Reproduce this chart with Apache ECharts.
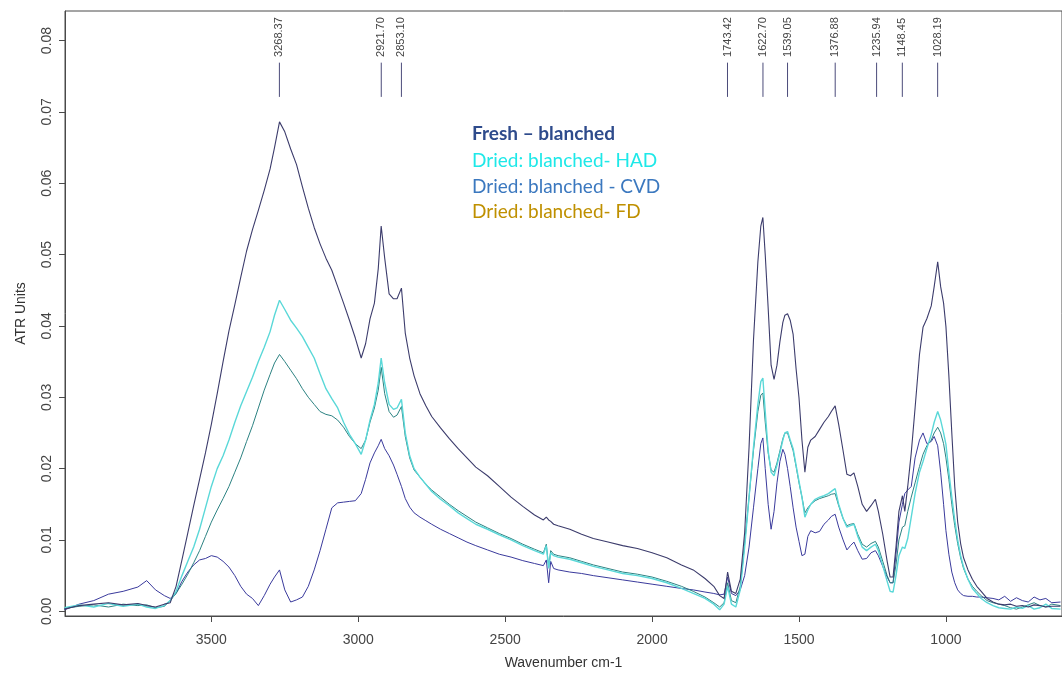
<!DOCTYPE html>
<html>
<head>
<meta charset="utf-8">
<script src="https://cdn.jsdelivr.net/npm/echarts@6/dist/echarts.min.js"></script>
<style>
html,body{margin:0;padding:0;background:#fff;}
#chart{width:1062px;height:675px;}
</style>
</head>
<body>
<div id="chart"></div>
<script>
const wavenumbers = [4000,3950,3900,3850,3800,3750,3720,3690,3660,3640,3620,3600,3580,3560,3540,3520,3500,3480,3460,3440,3420,3400,3380,3360,3340,3320,3300,3285,3268,3250,3230,3210,3190,3170,3150,3130,3110,3090,3070,3050,3030,3010,2990,2975,2960,2945,2932,2922,2910,2895,2880,2868,2853,2840,2825,2810,2790,2770,2750,2720,2690,2660,2630,2600,2560,2520,2480,2440,2400,2370,2360,2352,2345,2335,2320,2280,2240,2200,2150,2100,2050,2000,1950,1900,1860,1820,1790,1770,1755,1743,1730,1715,1700,1685,1670,1655,1640,1630,1623,1615,1605,1595,1585,1575,1565,1555,1548,1539,1530,1520,1510,1500,1490,1480,1470,1460,1445,1430,1415,1400,1390,1377,1365,1350,1337,1325,1313,1300,1285,1270,1255,1240,1230,1215,1200,1190,1180,1170,1160,1148,1140,1130,1118,1105,1090,1078,1065,1050,1040,1028,1018,1008,1000,990,980,970,960,950,940,925,910,895,880,860,840,820,800,780,760,740,720,700,680,660,640,610];

const freshBlanched = [.0003,.0008,.0010,.0012,.0009,.0011,.0008,.0006,.0010,.0012,.0035,.0072,.0110,.0148,.0185,.0222,.0262,.0305,.0350,.0393,.0430,.0468,.0505,.0535,.0562,.0590,.0620,.0650,.0686,.0672,.0648,.0626,.0595,.0565,.0538,.0515,.0495,.0478,.0455,.0432,.0408,.0383,.0355,.0375,.0410,.0432,.0480,.0540,.0495,.0445,.0438,.0438,.0453,.0390,.0355,.0330,.0305,.0288,.0273,.0257,.0242,.0228,.0215,.0202,.0190,.0175,.0160,.0147,.0135,.0128,.0132,.0128,.0126,.0122,.0120,.0115,.0108,.0102,.0097,.0092,.0088,.0082,.0075,.0065,.0058,.0046,.0035,.0022,.0018,.0055,.0028,.0025,.0045,.0110,.0230,.0380,.0490,.0540,.0552,.0500,.0425,.0345,.0325,.0345,.0378,.0405,.0415,.0417,.0408,.0388,.0340,.0299,.0240,.0195,.0230,.0240,.0245,.0255,.0265,.0273,.0280,.0288,.0262,.0225,.0192,.0190,.0194,.0175,.0150,.0140,.0148,.0157,.0140,.0108,.0070,.0048,.0048,.0090,.0140,.0162,.0140,.0175,.0222,.0285,.0360,.0398,.0410,.0428,.0455,.0490,.0455,.0432,.0399,.0330,.0250,.0175,.0125,.0095,.0075,.0058,.0045,.0035,.0028,.0018,.0013,.0010,.0009,.0010,.0007,.0008,.0006,.0009,.0008,.0006,.0007,.0007];

const driedHAD = [.0005,.0009,.0006,.0011,.0007,.0010,.0006,.0004,.0008,.0015,.0028,.0050,.0070,.0090,.0115,.0145,.0175,.0200,.0218,.0240,.0265,.0288,.0308,.0328,.0350,.0370,.0392,.0415,.0436,.0423,.0408,.0397,.0385,.0370,.0355,.0333,.0312,.0298,.0285,.0265,.0248,.0235,.0220,.0240,.0268,.0290,.0320,.0355,.0320,.0290,.0283,.0285,.0297,.0250,.0218,.0200,.0188,.0178,.0168,.0157,.0148,.0138,.0130,.0122,.0115,.0107,.0100,.0092,.0085,.0080,.0092,.0060,.0082,.0078,.0076,.0073,.0068,.0063,.0058,.0053,.0050,.0046,.0040,.0032,.0025,.0018,.0010,.0002,.0010,.0035,.0010,.0006,.0030,.0090,.0160,.0230,.0290,.0322,.0327,.0280,.0225,.0195,.0190,.0205,.0222,.0240,.0250,.0252,.0240,.0228,.0205,.0182,.0160,.0132,.0142,.0150,.0157,.0160,.0162,.0165,.0168,.0172,.0150,.0130,.0118,.0120,.0122,.0105,.0090,.0085,.0090,.0094,.0085,.0064,.0042,.0028,.0027,.0050,.0078,.0090,.0088,.0102,.0132,.0165,.0195,.0210,.0228,.0248,.0265,.0280,.0268,.0250,.0234,.0195,.0160,.0128,.0100,.0078,.0062,.0045,.0032,.0025,.0018,.0012,.0008,.0005,.0004,.0003,.0006,.0004,.0008,.0003,.0005,.0010,.0004,.0003];

const driedCVD = [.0004,.0007,.0009,.0006,.0010,.0008,.0009,.0005,.0007,.0015,.0025,.0038,.0052,.0068,.0085,.0105,.0125,.0142,.0158,.0175,.0195,.0215,.0238,.0260,.0285,.0310,.0332,.0348,.0360,.0350,.0338,.0326,.0312,.0300,.0290,.0280,.0276,.0274,.0268,.0258,.0245,.0235,.0228,.0240,.0265,.0285,.0310,.0342,.0305,.0280,.0272,.0275,.0287,.0245,.0215,.0198,.0188,.0178,.0170,.0160,.0150,.0141,.0133,.0125,.0117,.0109,.0102,.0094,.0087,.0082,.0094,.0062,.0085,.0080,.0078,.0075,.0070,.0065,.0060,.0055,.0052,.0048,.0042,.0035,.0028,.0020,.0012,.0006,.0012,.0040,.0015,.0012,.0035,.0095,.0160,.0225,.0280,.0303,.0306,.0265,.0222,.0198,.0195,.0208,.0225,.0242,.0250,.0250,.0238,.0225,.0203,.0180,.0160,.0138,.0145,.0150,.0155,.0158,.0160,.0162,.0164,.0165,.0148,.0130,.0120,.0122,.0123,.0108,.0094,.0090,.0095,.0098,.0090,.0070,.0050,.0040,.0040,.0065,.0100,.0118,.0120,.0140,.0160,.0180,.0203,.0220,.0232,.0240,.0250,.0258,.0250,.0235,.0215,.0185,.0150,.0120,.0095,.0075,.0060,.0045,.0035,.0028,.0022,.0015,.0012,.0010,.0008,.0005,.0003,.0006,.0009,.0012,.0008,.0006,.0010,.0008];

const driedFD = [.0002,.0010,.0015,.0024,.0028,.0034,.0043,.0030,.0022,.0018,.0025,.0042,.0055,.0065,.0072,.0074,.0078,.0076,.0070,.0062,.0050,.0035,.0024,.0018,.0008,.0022,.0038,.0048,.0058,.0030,.0013,.0016,.0020,.0035,.0058,.0085,.0115,.0145,.0152,.0153,.0154,.0155,.0165,.0185,.0208,.0222,.0232,.0241,.0228,.0218,.0205,.0192,.0175,.0158,.0146,.0138,.0132,.0127,.0122,.0115,.0109,.0103,.0097,.0092,.0086,.0080,.0076,.0071,.0067,.0064,.0072,.0040,.0070,.0060,.0058,.0055,.0053,.0050,.0047,.0044,.0041,.0038,.0035,.0032,.0030,.0027,.0025,.0023,.0024,.0048,.0025,.0022,.0030,.0050,.0090,.0145,.0200,.0235,.0243,.0200,.0150,.0115,.0140,.0180,.0210,.0227,.0220,.0200,.0175,.0145,.0118,.0098,.0078,.0080,.0105,.0113,.0110,.0112,.0122,.0128,.0133,.0136,.0118,.0100,.0086,.0092,.0097,.0085,.0073,.0074,.0082,.0085,.0078,.0063,.0048,.0040,.0040,.0080,.0125,.0150,.0165,.0170,.0175,.0215,.0240,.0250,.0235,.0238,.0245,.0232,.0195,.0150,.0113,.0080,.0055,.0040,.0030,.0025,.0022,.0021,.0021,.0020,.0020,.0019,.0018,.0016,.0021,.0014,.0019,.0015,.0013,.0020,.0016,.0018,.0012,.0013];

const peakWavenumbers = [3268.37, 2921.70, 2853.10, 1743.42, 1622.70, 1539.05, 1376.88, 1235.94, 1148.45, 1028.19];
const peakLabels = ['3268.37', '2921.70', '2853.10', '1743.42', '1622.70', '1539.05', '1376.88', '1235.94', '1148.45', '1028.19'];
const xTickValues = [3500, 3000, 2500, 2000, 1500, 1000];
const yTickValues = [0, 0.01, 0.02, 0.03, 0.04, 0.05, 0.06, 0.07, 0.08];
const legendLabels = ['Fresh \u2013 blanched', 'Dried: blanched- HAD', 'Dried: blanched - CVD', 'Dried: blanched- FD'];

const PEAK_LINE_LOW = 0.0721, PEAK_LINE_HIGH = 0.0769, PEAK_LABEL_BASE = 0.0777;

function pairs(vals) { return wavenumbers.map((w, i) => [w, vals[i]]); }

const chart = echarts.init(document.getElementById('chart'), null, {renderer: 'canvas'});
const axisColor = '#4a4a4a';
const tickFont = '"Liberation Sans", Arial, sans-serif';

const lineSeries = (name, vals, color, width) => ({
  name, type: 'line', data: pairs(vals), symbol: 'none', smooth: false,
  lineStyle: {color, width}, animation: false, silent: true, z: 2
});

const legendFont = 'Lato, "Open Sans", sans-serif';
const legendColors = ['#2e4b8c', '#1ee8e8', '#3b78bf', '#bf9000'];
const legendTops = [124, 151, 177, 202];

chart.setOption({
  animation: false,
  grid: {left: 65, right: -8, top: 11, bottom: 56, show: true, borderColor: axisColor, borderWidth: 1, backgroundColor: 'transparent'},
  xAxis: {
    type: 'value', inverse: true, min: 605, max: 3998,
    name: 'Wavenumber cm-1', nameLocation: 'middle', nameGap: 40,
    nameTextStyle: {fontFamily: tickFont, fontSize: 14, color: '#333'},
    axisLine: {show: true, onZero: false, lineStyle: {color: axisColor}},
    axisTick: {show: true, length: 6, customValues: xTickValues, lineStyle: {color: axisColor}},
    axisLabel: {customValues: xTickValues, margin: 17, fontFamily: tickFont, fontSize: 14, color: '#444',
      formatter: v => String(v)},
    splitLine: {show: false}
  },
  yAxis: {
    type: 'value', min: -0.00066, max: 0.08414,
    name: 'ATR Units', nameLocation: 'middle', nameGap: 37, nameRotate: 90,
    nameTextStyle: {fontFamily: tickFont, fontSize: 14, color: '#333'},
    axisLine: {show: true, lineStyle: {color: axisColor}},
    axisTick: {show: true, length: 6, customValues: yTickValues, lineStyle: {color: axisColor}},
    axisLabel: {customValues: yTickValues, rotate: 90, margin: 11, fontFamily: tickFont, fontSize: 14, color: '#444',
      formatter: v => v.toFixed(2)},
    splitLine: {show: false}
  },
  graphic: legendLabels.map((t, i) => ({
    type: 'text', left: 472, top: legendTops[i], silent: true,
    style: {text: t, fill: legendColors[i], font: (i === 0 ? 'bold ' : '') + '19px ' + legendFont}
  })),
  series: [
    lineSeries('Dried: blanched- FD', driedFD, '#3a3a9c', 1),
    lineSeries('Dried: blanched - CVD', driedCVD, '#2c8282', 1),
    lineSeries('Dried: blanched- HAD', driedHAD, '#5ad8d8', 1.4),
    lineSeries('Fresh \u2013 blanched', freshBlanched, '#3c3c6c', 1.1),
    {
      type: 'custom', silent: true, clip: false, animation: false, z: 3,
      data: peakWavenumbers.map(w => [w, PEAK_LINE_LOW]),
      renderItem: (params, api) => {
        const w = api.value(0);
        const a = api.coord([w, PEAK_LINE_LOW]);
        const b = api.coord([w, PEAK_LINE_HIGH]);
        const c = api.coord([w, PEAK_LABEL_BASE]);
        return {type: 'group', children: [
          {type: 'line', shape: {x1: a[0], y1: a[1], x2: b[0], y2: b[1]}, style: {stroke: '#4b4b7a', lineWidth: 1}},
          {type: 'text', x: c[0], y: c[1], rotation: Math.PI / 2,
            style: {text: peakLabels[params.dataIndex], fill: '#444', font: '11px ' + tickFont, align: 'left', verticalAlign: 'middle'}}
        ]};
      }
    }
  ]
});
</script>
</body>
</html>
